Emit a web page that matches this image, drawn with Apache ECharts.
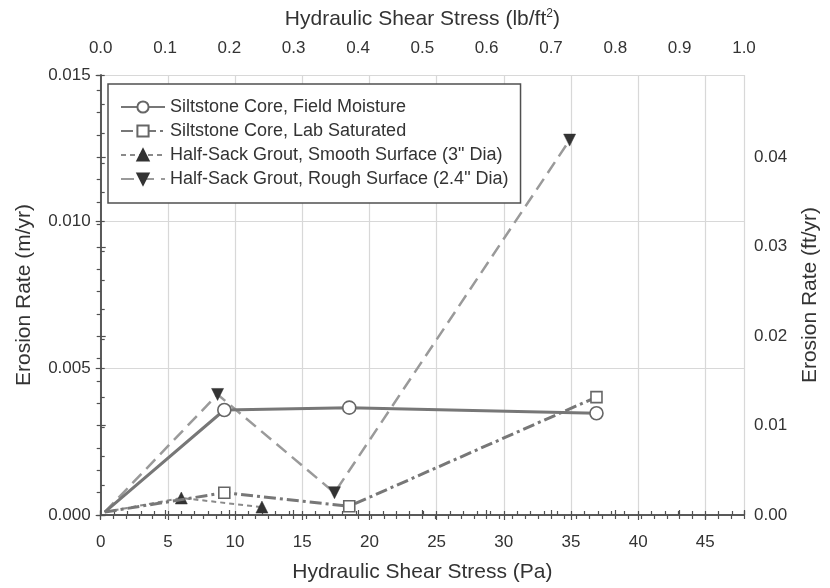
<!DOCTYPE html>
<html>
<head>
<meta charset="utf-8">
<script src="https://cdn.jsdelivr.net/npm/echarts@6/dist/echarts.min.js"></script>
<style>
  html, body { margin: 0; padding: 0; background: #fff; }
  #chart { width: 830px; height: 588px; }
</style>
</head>
<body>
<div id="chart"></div>
<script>
// Erosion rate vs hydraulic shear stress, siltstone cores and half-sack grout samples
const seriesNames = [
  'Siltstone Core, Field Moisture',
  'Siltstone Core, Lab Saturated',
  'Half-Sack Grout, Smooth Surface (3" Dia)',
  'Half-Sack Grout, Rough Surface (2.4" Dia)'
];

// shear stress (Pa) and erosion rate (m/yr)
const fieldX = [0.3, 9.2, 18.5, 36.9];
const fieldY = [0.0001, 0.00358, 0.00366, 0.00347];
const labX = [0.3, 9.2, 18.5, 36.9];
const labY = [0.0001, 0.00076, 0.0003, 0.00402];
const smoothX = [0.3, 6.0, 12.0];
const smoothY = [0.0001, 0.00058, 0.00027];
const roughX = [0.3, 8.7, 17.4, 34.9];
const roughY = [0.0001, 0.00411, 0.00076, 0.01278];

// axis ranges
const PA_PER_PSF = 47.88;   // 1 lb/ft2 in Pa
const FT_PER_M = 3.28084;
const yMaxM = 0.015;

const FONT = '"Liberation Sans", Arial, sans-serif';
const TXT = '#333';
const AX = '#505050';

// first vertex of each curve is drawn without a marker
function points(xs, ys) {
  return xs.map((x, i) => i === 0 ? { value: [x, ys[i]], symbol: 'none' } : [x, ys[i]]);
}

const hidden = { show: false };

const option = {
  animation: false,
  backgroundColor: '#fff',
  textStyle: { fontFamily: FONT, color: TXT },
  grid: { left: 100.7, right: 86, top: 75, bottom: 63, containLabel: false },
  legend: {
    orient: 'vertical',
    left: 108, top: 84,
    backgroundColor: '#fff',
    borderColor: '#505050', borderWidth: 1.5, borderRadius: 0,
    padding: [14, 12, 15, 12],
    itemWidth: 44, itemHeight: 14, itemGap: 6,
    textStyle: { fontFamily: FONT, fontSize: 18, color: TXT },
    data: seriesNames
  },
  xAxis: [
    { // Pa, labels + outward major ticks + grid
      type: 'value', position: 'bottom', min: 0, max: PA_PER_PSF, interval: 5,
      name: 'Hydraulic Shear Stress (Pa)', nameLocation: 'middle', nameGap: 47,
      nameTextStyle: { fontFamily: FONT, fontSize: 21, color: TXT },
      axisLine: { show: true, lineStyle: { color: AX, width: 1.5 } },
      axisTick: { show: true, inside: false, length: 5, lineStyle: { color: AX, width: 1.2 } },
      axisLabel: { fontFamily: FONT, fontSize: 17, color: TXT, margin: 19, showMaxLabel: false,
        formatter: v => (Math.abs(v % 5) < 1e-9 ? String(v) : '') },
      splitLine: { show: true, lineStyle: { color: '#d8d8d8', width: 1.2 } }
    },
    { // Pa, inward ticks every 1 Pa
      type: 'value', position: 'bottom', min: 0, max: PA_PER_PSF, interval: 1,
      axisLine: hidden, axisLabel: hidden, splitLine: hidden,
      axisTick: { show: true, inside: true, length: 4, lineStyle: { color: AX, width: 1.2 } }
    },
    { // lb/ft2
      type: 'value', position: 'top', min: 0, max: 1, interval: 0.1,
      name: '{a|Hydraulic Shear Stress (lb/ft}{s|2}{a|)}', nameLocation: 'middle', nameGap: 45,
      nameTextStyle: {
        rich: {
          a: { fontFamily: FONT, fontSize: 21, color: TXT },
          s: { fontFamily: FONT, fontSize: 12, color: TXT, verticalAlign: 'top', padding: [0, 0, 10, 0] }
        }
      },
      axisLine: { show: true, lineStyle: { color: AX, width: 1.5 } },
      axisTick: { show: true, inside: false, length: 5, lineStyle: { color: AX, width: 1.2 } },
      axisLabel: { fontFamily: FONT, fontSize: 17, color: TXT, margin: 18, formatter: v => v.toFixed(1) },
      splitLine: hidden
    },
    {
      type: 'value', position: 'top', min: 0, max: 1, interval: 0.02,
      axisLine: hidden, axisLabel: hidden, splitLine: hidden,
      axisTick: { show: true, inside: true, length: 4, lineStyle: { color: AX, width: 1.2 } }
    }
  ],
  yAxis: [
    { // m/yr
      type: 'value', position: 'left', min: 0, max: yMaxM, interval: 0.005,
      name: 'Erosion Rate (m/yr)', nameLocation: 'middle', nameGap: 66,
      nameTextStyle: { fontFamily: FONT, fontSize: 21, color: TXT },
      axisLine: { show: true, lineStyle: { color: AX, width: 1.5 } },
      axisTick: { show: true, inside: false, length: 5, lineStyle: { color: AX, width: 1.2 } },
      axisLabel: { fontFamily: FONT, fontSize: 17, color: TXT, margin: 10, formatter: v => v.toFixed(3) },
      splitLine: { show: true, lineStyle: { color: '#d8d8d8', width: 1.2 } }
    },
    {
      type: 'value', position: 'left', min: 0, max: yMaxM, interval: 0.001,
      axisLine: hidden, axisLabel: hidden, splitLine: hidden,
      axisTick: { show: true, inside: true, length: 4, lineStyle: { color: AX, width: 1.2 } }
    },
    { // ft/yr
      type: 'value', position: 'right', min: 0, max: yMaxM * FT_PER_M, interval: 0.01,
      name: 'Erosion Rate (ft/yr)', nameLocation: 'middle', nameGap: 56,
      nameTextStyle: { fontFamily: FONT, fontSize: 21, color: TXT },
      axisLine: { show: true, lineStyle: { color: AX, width: 1.5 } },
      axisTick: { show: true, inside: false, length: 5, lineStyle: { color: AX, width: 1.2 } },
      axisLabel: { fontFamily: FONT, fontSize: 17, color: TXT, margin: 10, showMaxLabel: false,
        formatter: v => v.toFixed(2) },
      splitLine: hidden
    },
    {
      type: 'value', position: 'right', min: 0, max: yMaxM * FT_PER_M, interval: 0.0025,
      axisLine: hidden, axisLabel: hidden, splitLine: hidden,
      axisTick: { show: true, inside: true, length: 4, lineStyle: { color: AX, width: 1.2 } }
    }
  ],
  series: [
    {
      name: seriesNames[0], type: 'line', xAxisIndex: 0, yAxisIndex: 0, z: 4,
      data: points(fieldX, fieldY),
      symbol: 'circle', symbolSize: 13,
      lineStyle: { color: '#777', width: 3, type: 'solid' },
      itemStyle: { color: '#fff', borderColor: '#666', borderWidth: 1.6 }
    },
    {
      name: seriesNames[1], type: 'line', xAxisIndex: 0, yAxisIndex: 0, z: 4,
      data: points(labX, labY),
      symbol: 'rect', symbolSize: 11,
      lineStyle: { color: '#777', width: 3, type: [12, 4, 3, 4] },
      itemStyle: { color: '#fff', borderColor: '#666', borderWidth: 1.6 }
    },
    {
      name: seriesNames[2], type: 'line', xAxisIndex: 0, yAxisIndex: 0, z: 3,
      data: points(smoothX, smoothY),
      symbol: 'triangle', symbolSize: 12,
      lineStyle: { color: '#8a8a8a', width: 2, type: [5, 4] },
      itemStyle: { color: '#333', borderColor: '#333', borderWidth: 0.5 }
    },
    {
      name: seriesNames[3], type: 'line', xAxisIndex: 0, yAxisIndex: 0, z: 3,
      data: points(roughX, roughY),
      symbol: 'triangle', symbolRotate: 180, symbolSize: 12,
      lineStyle: { color: '#9a9a9a', width: 2.5, type: [13, 7] },
      itemStyle: { color: '#333', borderColor: '#333', borderWidth: 0.5 }
    }
  ]
};

const chart = echarts.init(document.getElementById('chart'), null, { renderer: 'canvas' });
chart.setOption(option);
</script>
</body>
</html>
